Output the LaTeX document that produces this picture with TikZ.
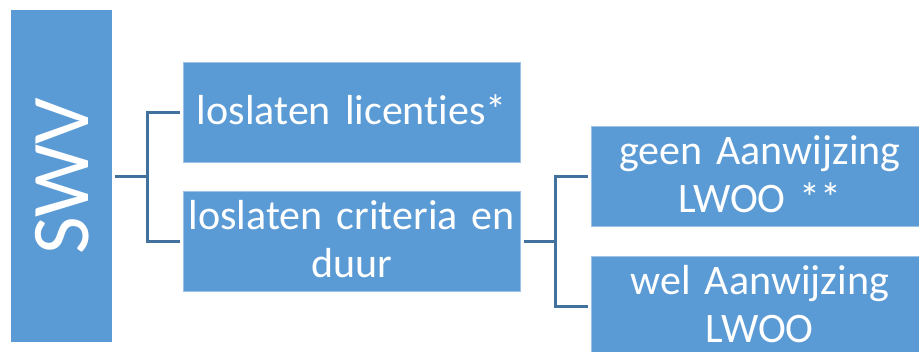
\documentclass[tikz,border=0pt]{standalone}
\usepackage{fontspec}
\setmainfont[Ligatures=NoCommon]{Carlito}
\usetikzlibrary{positioning}
\definecolor{boxblue}{HTML}{5B9BD5}
\definecolor{lineblue}{HTML}{41719C}

\begin{document}
\begin{tikzpicture}[x=1pt,y=-1pt,
        box/.style={fill=boxblue,draw=boxblue!60!white,line width=0.6pt,
          minimum width=337pt,minimum height=100pt,text=white,
          align=center,text width=334pt,inner sep=1pt,
          execute at end node={\endgraf\vspace{5pt}},
          font=\fontsize{42}{48}\selectfont},
        link/.style={draw=lineblue,line width=2.8pt}]
      \useasboundingbox (0,0) rectangle (919,352);
      \node[fill=boxblue,minimum width=101pt,minimum height=332pt,
        anchor=north west,text=white,font=\fontsize{82}{82}\selectfont]
        (swv) at (11,10) {\rotatebox{90}{SWV}};
      \node[box,anchor=north west] (lic) at (183,62) {loslaten licenties*};
      \node[box,anchor=north west] (crit) at (183,191) {loslaten criteria en\\duur};
      \node[box,anchor=north west] (geen) at (591,126) {geen Aanwijzing\\LWOO **};
      \node[box,anchor=north west] (wel) at (591,256) {wel Aanwijzing\\LWOO};
      \path[link]
        (swv.east) ++(3,0) -- ++(32,0) coordinate (j1)
        (j1) |- ([xshift=-3pt]lic.west)
        (j1) |- ([xshift=-3pt]crit.west);
      \path[link]
        (crit.east) ++(3,0) -- ++(32,0) coordinate (j2)
        (j2) |- ([xshift=-3pt]geen.west)
        (j2) |- ([xshift=-3pt]wel.west);
    \end{tikzpicture}
\end{document}
